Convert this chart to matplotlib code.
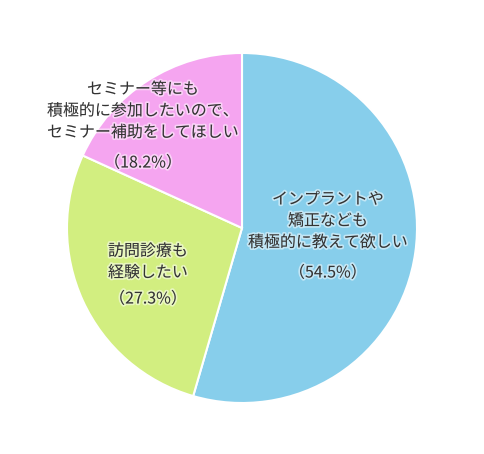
import matplotlib.pyplot as plt
import matplotlib.patheffects as pe

plt.rcParams['font.family'] = ['Noto Sans CJK JP', 'DejaVu Sans']

# データ
labels = ['インプラントや\n矯正なども\n積極的に教えて欲しい',
          '訪問診療も\n経験したい',
          'セミナー等にも\n積極的に参加したいので、\nセミナー補助をしてほしい']
values = [54.5, 27.3, 18.2]
colors = ['#87CEEB', '#D2EE80', '#F5A5F0']

W, H = 484, 454
fig = plt.figure(figsize=(W / 100, H / 100), dpi=100)
cx, cy, r = 242, 228, 175
ax = fig.add_axes([(cx - r) / W, (H - cy - r) / H, 2 * r / W, 2 * r / H])

ax.pie(values, colors=colors, startangle=90, counterclock=False, radius=1,
       wedgeprops=dict(edgecolor='white', linewidth=1.5))
ax.set_xlim(-1, 1)
ax.set_ylim(-1, 1)
ax.set_aspect('equal')
ax.axis('off')

# ラベル位置(ピクセル)
label_pos = [(328, 221), (148, 262), (143, 111)]
pct_pos = [(328, 273), (148, 299), (143, 163)]

effects = [pe.withStroke(linewidth=2.5, foreground='white', alpha=0.5)]
for lab, v, (lx, ly), (px, py) in zip(labels, values, label_pos, pct_pos):
    ax.text((lx - cx) / r, (cy - ly) / r, lab, ha='center', va='center',
            fontsize=11.5, color='#333333', linespacing=1.35, path_effects=effects)
    ax.text((px - cx) / r, (cy - py) / r, f'（{v}%）', ha='center', va='center',
            fontsize=11.5, color='#333333', path_effects=effects)

fig.savefig('out.png', dpi=100)
